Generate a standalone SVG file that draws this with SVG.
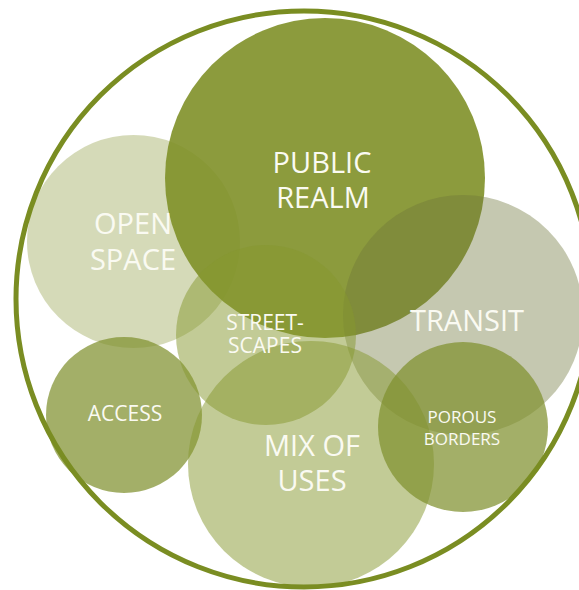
<svg xmlns="http://www.w3.org/2000/svg" width="579" height="590" viewBox="0 0 579 590">
  <style>
    .light { fill: rgb(150,162,78); fill-opacity: 0.4; }
    .gray { fill: rgb(110,117,57); fill-opacity: 0.4; }
    .pale { fill: rgb(133,151,45); fill-opacity: 0.5; }
    .mid { fill: rgb(128,144,46); fill-opacity: 0.72; }
    .dark { fill: rgb(127,144,40); fill-opacity: 0.9; }
    .ring { fill: none; stroke: rgb(122,141,34); stroke-width: 5; }
    .lbl { font-family: "Open Sans", "DejaVu Sans", sans-serif; fill: #fafaf2; text-anchor: middle; }
    .big { font-size: 29px; }
    .small { font-size: 21px; }
    .tiny { font-size: 17px; }
  </style>
  <rect width="579" height="590" fill="#ffffff"/>
  <g id="nodes">
    <g id="node-open-space"><circle class="light" cx="133.5" cy="241.5" r="106.5"/></g>
    <g id="node-access"><circle class="mid" cx="124" cy="415" r="78"/></g>
    <g id="node-public-realm"><circle class="dark" cx="325" cy="178" r="160"/></g>
    <g id="node-transit"><circle class="gray" cx="463" cy="315" r="120"/></g>
    <g id="node-streetscapes"><circle class="pale" cx="266" cy="335" r="90"/></g>
    <g id="node-mix-of-uses"><circle class="pale" cx="311" cy="464" r="123"/></g>
    <g id="node-porous-borders"><circle class="mid" cx="463" cy="427" r="85"/></g>
  </g>
  <g id="frame">
    <circle class="ring" cx="304" cy="299" r="288"/>
  </g>
  <g id="labels">
    <text id="label-public-realm-1" class="lbl big" x="322" y="173">PUBLIC</text>
    <text id="label-public-realm-2" class="lbl big" x="323" y="208">REALM</text>
    <text id="label-open-space-1" class="lbl big" x="133" y="234">OPEN</text>
    <text id="label-open-space-2" class="lbl big" x="133" y="270">SPACE</text>
    <text id="label-transit" class="lbl big" x="467" y="331">TRANSIT</text>
    <text id="label-streetscapes-1" class="lbl small" x="265" y="330">STREET-</text>
    <text id="label-streetscapes-2" class="lbl small" x="265" y="353">SCAPES</text>
    <text id="label-access" class="lbl small" x="125" y="421">ACCESS</text>
    <text id="label-mix-of-uses-1" class="lbl big" x="312" y="456">MIX OF</text>
    <text id="label-mix-of-uses-2" class="lbl big" x="312" y="491">USES</text>
    <text id="label-porous-borders-1" class="lbl tiny" x="462" y="423">POROUS</text>
    <text id="label-porous-borders-2" class="lbl tiny" x="462" y="445">BORDERS</text>
  </g>
</svg>
